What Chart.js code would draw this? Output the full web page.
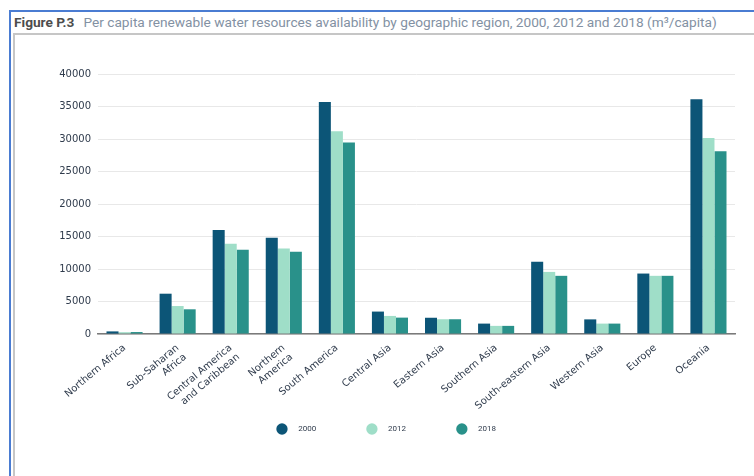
<!DOCTYPE html>
<html>
<head>
<meta charset="utf-8">
<script src="https://cdn.jsdelivr.net/npm/chart.js@4"></script>
<style>
  body { margin: 0; width: 754px; height: 476px; overflow: hidden; background: #fff; font-family: Roboto, sans-serif; }
  #frame { position: absolute; left: 9px; top: 10px; right: 0; bottom: 0; border-top: 2px solid #4a7cd2; border-left: 2px solid #4a7cd2; }
  #title { position: absolute; left: 14px; top: 14px; font-size: 13.7px; color: #8391a3; white-space: nowrap; }
  #title b { color: #4d4d4d; margin-right: 9px; }
  #inner { position: absolute; left: 13px; top: 33px; right: 0; bottom: 0; border-top: 2px solid #c6c6c6; border-left: 2px solid #c6c6c6; }
  #wrap { position: absolute; left: 15px; top: 35px; width: 739px; height: 441px; }
</style>
</head>
<body>
<div id="frame"></div>
<div id="title"><b>Figure P.3</b>Per capita renewable water resources availability by geographic region, 2000, 2012 and 2018 (m³/capita)</div>
<div id="inner"></div>
<div id="wrap"><canvas id="grafico" width="739" height="441"></canvas></div>
<script>
// regiones y valores (m3/capita)
const regiones = [
    "Northern Africa",
    ["Sub-Saharan", "Africa"],
    ["Central America", "and Caribbean"],
    ["Northern", "America"],
    "South America",
    "Central Asia",
    "Eastern Asia",
    "Southern Asia",
    "South-eastern Asia",
    "Western Asia",
    "Europe",
    "Oceania"
];
const anios = ["2000", "2012", "2018"];
const valores2000 = [400, 6200, 16000, 14800, 35700, 3450, 2500, 1600, 11100, 2250, 9300, 36100];
const valores2012 = [280, 4300, 13900, 13150, 31200, 2780, 2270, 1250, 9550, 1600, 8950, 30150];
const valores2018 = [300, 3800, 12950, 12650, 29450, 2520, 2270, 1250, 8950, 1600, 8950, 28100];
const colores = ["#0c5577", "#9fdec8", "#29918a"];

const fuenteEjes = { family: "'DejaVu Sans', sans-serif", size: 10 };
const fuenteLeyenda = { family: "Roboto, sans-serif", size: 8 };
const colorTexto = "#2f3b4c";

// separacion extra en la leyenda (antes del texto y entre items)
const antes = "\u2003";
const hueco = "\u2003\u2003\u2003\u2003\u2003";

new Chart(document.getElementById("grafico"), {
    type: "bar",
    data: {
        labels: regiones,
        datasets: [
            { label: anios[0], data: valores2000, backgroundColor: colores[0] },
            { label: anios[1], data: valores2012, backgroundColor: colores[1] },
            { label: anios[2], data: valores2018, backgroundColor: colores[2] }
        ]
    },
    options: {
        responsive: false,
        animation: false,
        categoryPercentage: 0.68,
        barPercentage: 1,
        layout: { padding: { left: 24, right: 19, top: 39, bottom: 33 } },
        scales: {
            x: {
                grid: { display: false, drawTicks: false },
                border: { color: "#7a7a7a", width: 1.5 },
                ticks: { font: fuenteEjes, color: colorTexto, maxRotation: 40, minRotation: 40, padding: 8, autoSkip: false },
                afterFit: s => { s.height = 80; }
            },
            y: {
                min: 0,
                max: 40000,
                grid: { color: "#e8e8e8", drawTicks: false },
                border: { display: false },
                ticks: { stepSize: 5000, font: fuenteEjes, color: colorTexto, padding: 7, callback: v => String(v) },
                afterFit: s => { s.width = 59; }
            }
        },
        plugins: {
            legend: {
                position: "bottom",
                labels: {
                    usePointStyle: true,
                    pointStyle: "circle",
                    font: fuenteLeyenda,
                    color: colorTexto,
                    padding: 11,
                    generateLabels: chart => Chart.defaults.plugins.legend.labels.generateLabels(chart)
                        .map((item, i, todos) => ({ ...item, text: antes + item.text + (i < todos.length - 1 ? hueco : "") }))
                }
            },
            tooltip: { enabled: false }
        }
    }
});
</script>
</body>
</html>
